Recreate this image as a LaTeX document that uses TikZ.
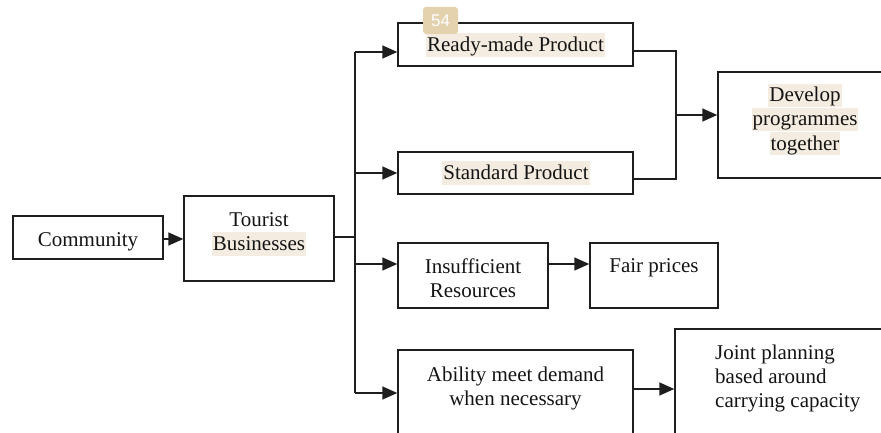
\documentclass[tikz,border=0pt]{standalone}
\usepackage{fontspec}
\setmainfont{Liberation Serif}
\newfontfamily\badgefont{Liberation Sans}
\usetikzlibrary{arrows.meta}
\definecolor{linec}{HTML}{1E1E1E}
\definecolor{hlc}{HTML}{F4ECE0}
\definecolor{badgec}{HTML}{E4D1AE}
\tikzset{
  box/.style={draw=linec, line width=1.4pt, rectangle, inner sep=0pt},
  conn/.style={draw=linec, line width=1.5pt},
  arr/.style={conn, -{Triangle[length=15pt,width=13pt]}},
  txt/.style={font=\fontsize{21}{24}\selectfont, text=black!92, inner xsep=1pt, inner ysep=0pt,
              text height=18pt, text depth=5.5pt, anchor=base},
  hl/.style={txt, fill=hlc},
}
\begin{document}
\begin{tikzpicture}[x=1pt,y=-1pt]
\useasboundingbox (0,0) rectangle (881,433);
\clip (0,0) rectangle (881,433);

% boxes
\node[box, minimum width=150, minimum height=43] (comm)  at (88,237.5)  {};
\node[box, minimum width=150, minimum height=85] (tour)  at (259,238.5) {};
\node[box, minimum width=235, minimum height=43] (ready) at (515.5,44.5) {};
\node[box, minimum width=235, minimum height=42] (std)   at (515.5,173)  {};
\node[box, minimum width=150, minimum height=65] (insuf) at (473,275.5) {};
\node[box, minimum width=128, minimum height=65] (fair)  at (654,275.5) {};
\node[box, minimum width=235, minimum height=100] (abil) at (515.5,400) {};
\node[box, minimum width=225, minimum height=122] (joint) at (787.5,390) {};
\node[box, minimum width=174, minimum height=106] (dev)  at (805,125)   {};

% texts
\node[txt] (tcomm) at (88,246.5) {Community};
\node[txt] (ttour1) at (259,226) {Tourist};
\node[hl]  (ttour2) at (259,250) {Businesses};
\node[hl]  (tready) at (515.5,51.5) {Ready-made Product};
\node[hl]  (tstd) at (516,179.5) {Standard Product};
\node[hl]  (tdev1) at (805,102) {Develop};
\node[hl]  (tdev2) at (805,126) {programmes};
\node[hl]  (tdev3) at (805,150) {together};
\node[txt] (tins1) at (473,273) {Insufficient};
\node[txt] (tins2) at (473,297) {Resources};
\node[txt] (tfair) at (654,272) {Fair prices};
\node[txt] (tab1) at (515.5,381) {Ability meet demand};
\node[txt] (tab2) at (515.5,405) {when necessary};
\node[txt, anchor=base west] (tj1) at (714,359.5) {Joint planning};
\node[txt, anchor=base west] (tj2) at (714,383.5) {based around};
\node[txt, anchor=base west] (tj3) at (714,407.5) {carrying capacity};

% junction points
\coordinate (split) at (355,237);
\coordinate (ytop)  at (355,52);
\coordinate (ybot)  at (355,393);
\coordinate (yins)  at (355,264);
\coordinate (join)  at (676,115);
\coordinate (ymr)   at (676,51);
\coordinate (ysp)   at (676,179);
\coordinate (yab)   at (0,389);

% connectors
\draw[arr] (comm.east |- 0,239) -- (tour.west |- 0,239);
\draw[conn] (tour.east |- split) -- (split);
\draw[conn] (ytop) -- (ybot);
\draw[arr] (ytop) -- (ytop -| ready.west);
\draw[arr] (std.west -| split) -- (std.west);
\draw[arr] (yins) -- (yins -| insuf.west);
\draw[arr] (ybot) -- (ybot -| abil.west);
\draw[arr] (insuf.east |- yins) -- (fair.west |- yins);
\draw[arr] (abil.east |- yab) -- (joint.west |- yab);
\draw[conn] (ready.east |- ymr) -- (ymr) -- (ysp) -- (std.east |- ysp);
\draw[arr] (join) -- (join -| dev.west);

% page badge
\node[fill=badgec, rounded corners=3pt, minimum width=35, minimum height=27, inner sep=0pt,
      text=white, font=\badgefont\fontsize{17}{17}\selectfont] (badge) at (440.5,20.5) {54};
\end{tikzpicture}
\end{document}
